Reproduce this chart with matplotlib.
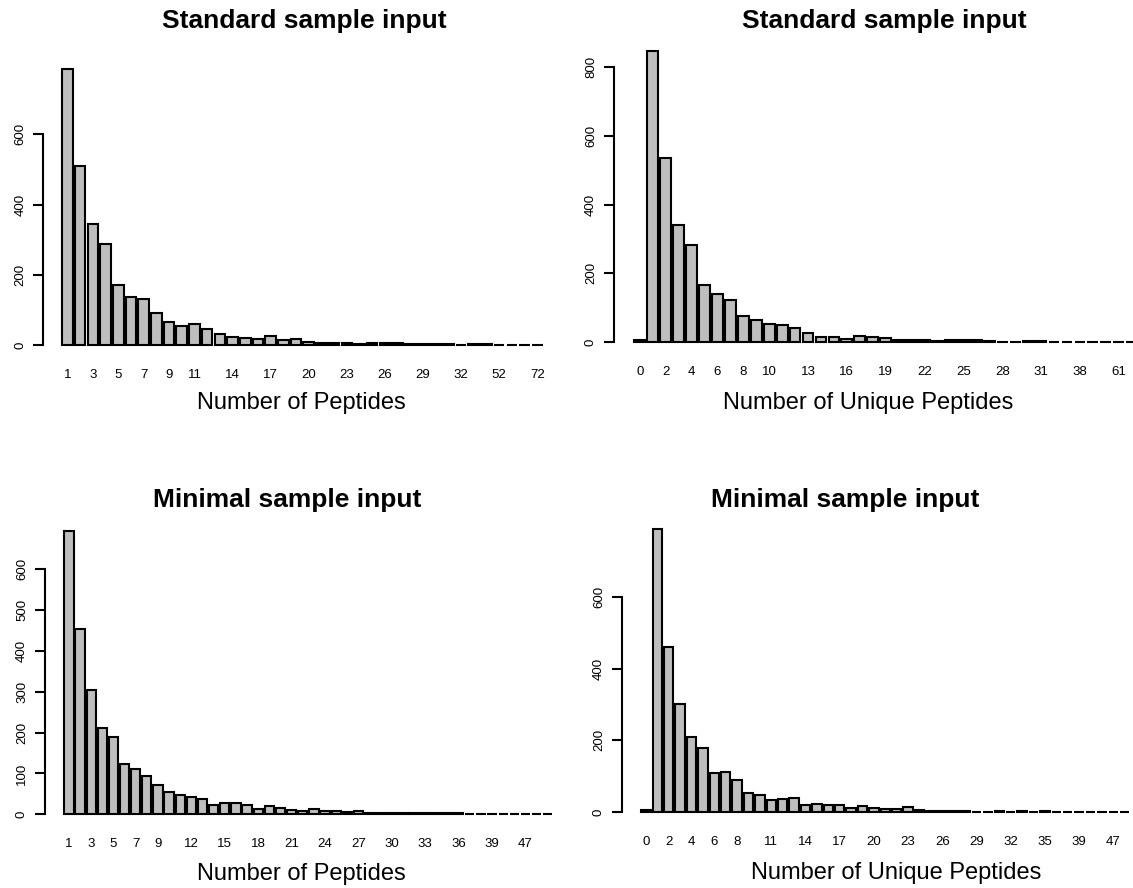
import numpy as np
import matplotlib
matplotlib.use('Agg')
import matplotlib.pyplot as plt

plt.rcParams['font.family'] = ['Liberation Sans', 'DejaVu Sans']

W, H = 1133, 888

# top left: number of peptides, standard input
tl_cats = list(range(1, 33)) + [34, 41, 52, 58, 64, 72]
tl_counts = [787, 511, 344, 288, 170, 136, 132, 91, 66, 53, 60, 45, 31, 23, 21, 17, 25, 13, 16, 8,
             5, 7, 7, 4, 7, 5, 5, 2, 3, 4, 3, 1, 3, 3, 1, 1, 1, 1]
tl_shown = [1, 3, 5, 7, 9, 11, 14, 17, 20, 23, 26, 29, 32, 52, 72]
tl_yticks = [0, 200, 400, 600]

# top right: number of unique peptides, standard input
tr_cats = list(range(0, 32)) + [33, 34, 38, 44, 51, 61, 67, 74]
tr_counts = [6, 846, 534, 340, 283, 166, 140, 123, 77, 64, 54, 49, 41, 27, 16, 16, 10, 19, 15, 13,
             6, 6, 7, 4, 6, 6, 6, 3, 2, 2, 3, 3, 2, 2, 2, 1, 1, 1, 1, 1]
tr_shown = [0, 2, 4, 6, 8, 10, 13, 16, 19, 22, 25, 28, 31, 38, 61]
tr_yticks = [0, 200, 400, 600, 800]

# bottom left: number of peptides, minimal input
bl_cats = list(range(1, 40)) + [41, 44, 47, 53, 62]
bl_counts = [693, 453, 304, 212, 188, 122, 110, 94, 71, 54, 46, 43, 38, 23, 28, 27, 22, 13, 20, 15,
             11, 7, 12, 7, 9, 6, 9, 2, 4, 2, 2, 4, 4, 2, 3, 2, 1, 1, 1, 1, 1, 1, 1, 1]
bl_shown = [1, 3, 5, 7, 9, 12, 15, 18, 21, 24, 27, 30, 33, 36, 39, 47]
bl_yticks = [0, 100, 200, 300, 400, 500, 600]

# bottom right: number of unique peptides, minimal input
br_cats = list(range(0, 37)) + [38, 39, 41, 44, 47, 55]
br_counts = [6, 788, 459, 302, 209, 178, 109, 113, 91, 54, 48, 34, 38, 40, 19, 22, 21, 19, 11, 18,
             13, 9, 10, 16, 7, 3, 3, 5, 4, 2, 2, 3, 2, 3, 2, 3, 2, 1, 1, 1, 1, 1, 1]
br_shown = [0, 2, 4, 6, 8, 11, 14, 17, 20, 23, 26, 29, 32, 35, 39, 47]
br_yticks = [0, 200, 400, 600]

fig = plt.figure(figsize=(W / 100, H / 100), dpi=100)


# R style barplot placed by pixel anchors
# k0x: centre of first bar, ppu: pixels per R unit, base: y pixel of zero, ppv: pixels per count
def panel(k0x, ppu, base, ppv, cats, counts, shown, yticks):
	n = len(counts)
	lo = 0.2 - 0.04 * 1.2 * n
	hi = 1.2 * n + 0.04 * 1.2 * n
	left = k0x - (0.7 - lo) * ppu
	ymax = max(counts)
	ylo, yhi = -0.04 * ymax, 1.04 * ymax
	bot = base - ylo * ppv
	top = base - yhi * ppv
	ax = fig.add_axes([left / W, 1 - bot / H, (hi - lo) * ppu / W, (bot - top) / H])
	x = 0.7 + 1.2 * np.arange(n)
	ax.bar(x, counts, width=1.0, color='#BEBEBE', edgecolor='black', linewidth=1.5)
	ax.set_xlim(lo, hi)
	ax.set_ylim(ylo, yhi)
	for s in ['top', 'right', 'bottom']:
		ax.spines[s].set_visible(False)
	ax.spines['left'].set_bounds(yticks[0], yticks[-1])
	ax.spines['left'].set_linewidth(1.5)
	idx = [i for i, c in enumerate(cats) if c in shown]
	ax.set_xticks(x[idx])
	ax.set_xticklabels([str(cats[i]) for i in idx], fontsize=9.5)
	ax.tick_params(axis='x', length=0, pad=9)
	ax.set_yticks(yticks)
	ax.set_yticklabels([str(v) for v in yticks], fontsize=9.5, rotation=90, va='center')
	ax.tick_params(axis='y', length=7, width=1.5, pad=5)
	ax.patch.set_alpha(0)
	return ax


panel(67.5, 10.58, 345, 0.3512, tl_cats, tl_counts, tl_shown, tl_yticks)
panel(639.7, 10.79, 342.3, 0.3445, tr_cats, tr_counts, tr_shown, tr_yticks)
panel(68.9, 9.28, 814.3, 0.4089, bl_cats, bl_counts, bl_shown, bl_yticks)
panel(645.9, 9.5, 812.3, 0.3594, br_cats, br_counts, br_shown, br_yticks)


def put(x, y, s, **kw):
	fig.text(x / W, 1 - y / H, s, ha='center', va='center', **kw)


put(304, 21, 'Standard sample input', fontsize=19, fontweight='bold')
put(884, 21, 'Standard sample input', fontsize=19, fontweight='bold')
put(287, 500, 'Minimal sample input', fontsize=19, fontweight='bold')
put(845, 500, 'Minimal sample input', fontsize=19, fontweight='bold')
put(301, 403, 'Number of Peptides', fontsize=17)
put(868, 403, 'Number of Unique Peptides', fontsize=17)
put(301, 874, 'Number of Peptides', fontsize=17)
put(896, 873, 'Number of Unique Peptides', fontsize=17)

fig.savefig('out.png', dpi=100)
